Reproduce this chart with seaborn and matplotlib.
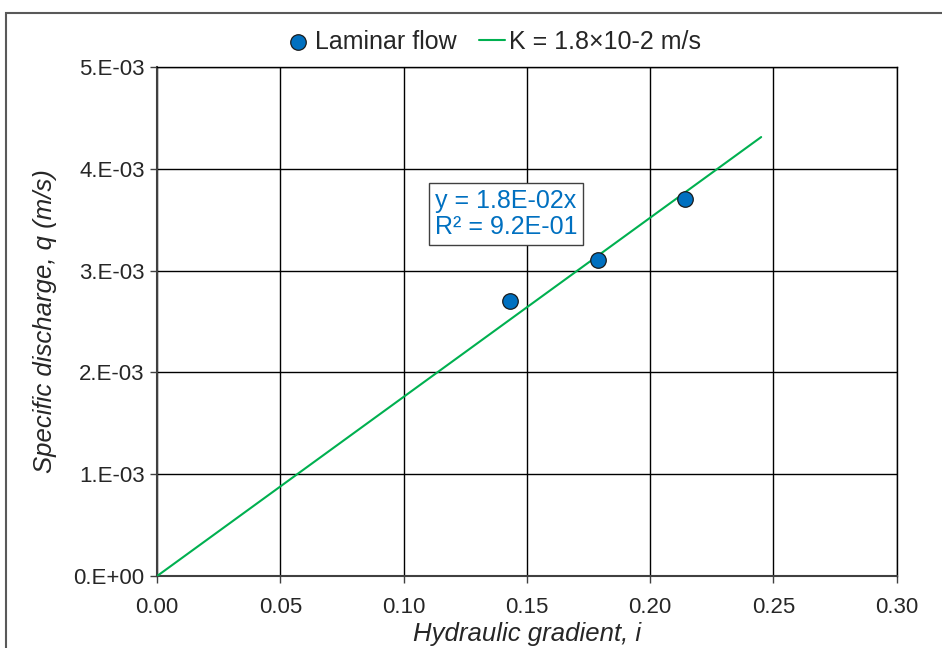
import matplotlib
matplotlib.use("Agg")
import matplotlib.pyplot as plt
import seaborn as sns
import pandas as pd
import numpy as np
from matplotlib.patches import Rectangle

# measured points
gradient = [0.143, 0.179, 0.214]
discharge = [2.7e-3, 3.1e-3, 3.7e-3]

# fitted line through origin
fit_x = [0.0, 0.245]
K = 0.0176
fit_q = [K * x for x in fit_x]

x_ticks = [0.00, 0.05, 0.10, 0.15, 0.20, 0.25, 0.30]
x_ticklabels = ["0.00", "0.05", "0.10", "0.15", "0.20", "0.25", "0.30"]
y_ticks = [0.0, 1e-3, 2e-3, 3e-3, 4e-3, 5e-3]
y_ticklabels = ["0.E+00", "1.E-03", "2.E-03", "3.E-03", "4.E-03", "5.E-03"]

sns.set_style("white")
plt.rcParams["font.family"] = ["Liberation Sans", "DejaVu Sans"]

fig = plt.figure(figsize=(9.42, 6.48), dpi=100)
ax = fig.add_axes([0.1667, 0.111, 0.952 - 0.1667, 0.8966 - 0.111])

pts = pd.DataFrame({"i": gradient, "q": discharge})
line = pd.DataFrame({"i": fit_x, "q": fit_q})

sns.lineplot(data=line, x="i", y="q", ax=ax, color="#00B050", linewidth=1.5,
             label="K = 1.8×10-2 m/s", zorder=3)
sns.scatterplot(data=pts, x="i", y="q", ax=ax, s=125, color="#0070C0",
                edgecolor="#1a1a1a", linewidth=0.9, label="Laminar flow", zorder=4)

ax.set_xlim(0, 0.30)
ax.set_ylim(0, 5e-3)
ax.set_xticks(x_ticks)
ax.set_xticklabels(x_ticklabels)
ax.set_yticks(y_ticks)
ax.set_yticklabels(y_ticklabels)
ax.tick_params(axis="both", labelsize=16, direction="out", length=5, width=1,
               color="#404040", left=True, bottom=True, pad=4)
ax.tick_params(axis="x", pad=10)

ax.grid(True, color="black", linewidth=1)
ax.set_axisbelow(True)
for side in ["top", "right"]:
    ax.spines[side].set_color("black")
    ax.spines[side].set_linewidth(1)
for side in ["left", "bottom"]:
    ax.spines[side].set_color("#404040")
    ax.spines[side].set_linewidth(1.5)

ax.set_xlabel("Hydraulic gradient, i", fontsize=18.5, style="italic", labelpad=3)
ax.set_ylabel("Specific discharge, q (m/s)", fontsize=18.5, style="italic", labelpad=12)

ax.text(0.1127, 3.556e-3, "y = 1.8E-02x\nR² = 9.2E-01", fontsize=18, color="#0070C0",
        linespacing=1.12, ha="left", va="center",
        bbox=dict(boxstyle="square,pad=0.22", facecolor="white", edgecolor="#404040", linewidth=1),
        zorder=5)

handles, labels = ax.get_legend_handles_labels()
order = [labels.index("Laminar flow"), labels.index("K = 1.8×10-2 m/s")]
ax.legend([handles[k] for k in order], [labels[k] for k in order],
          loc="center", bbox_to_anchor=(0.454, 1.05), ncol=2, frameon=False,
          fontsize=18, handlelength=1.05, handletextpad=0.15, columnspacing=0.9,
          markerscale=1.0, borderpad=0)

# outer chart frame
fig.patches.append(Rectangle((6 / 942, -0.1), 1.2, 1.1 - 13 / 648, transform=fig.transFigure,
                             fill=False, edgecolor="#595959", linewidth=1.5))

fig.savefig("out.png", dpi=100)
